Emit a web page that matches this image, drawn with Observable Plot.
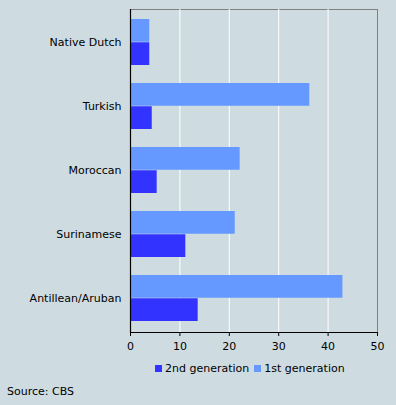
<!DOCTYPE html>
<html>
<head>
<meta charset="utf-8">
<script src="https://cdn.jsdelivr.net/npm/d3@7"></script>
<script src="https://cdn.jsdelivr.net/npm/@observablehq/plot@0.6"></script>
<style>
  html, body { margin: 0; padding: 0; background: #cedce2; }
  #wrap { position: relative; width: 396px; height: 405px; background: #cedce2; font-family: "DejaVu Sans", Verdana, sans-serif; font-size: 11px; color: #000; overflow: hidden; }
  #chart { position: absolute; left: 0; top: 0; }
  #legend { position: absolute; left: 155px; top: 362px; display: flex; align-items: center; white-space: nowrap; }
  .sw { display: inline-block; width: 7px; height: 7px; margin-right: 3px; }
  .item { display: flex; align-items: center; margin-right: 5px; }
  #source { position: absolute; left: 7px; top: 385px; }
</style>
</head>
<body>
<div id="wrap">
  <div id="chart"></div>
  <div id="legend"></div>
  <div id="source">Source: CBS</div>
</div>
<script>
const categories = ["Native Dutch", "Turkish", "Moroccan", "Surinamese", "Antillean/Aruban"];
const firstGen = [3.9, 36.3, 22.2, 21.2, 43.0];
const secondGen = [3.9, 4.4, 5.4, 11.2, 13.7];
const xTicks = [0, 10, 20, 30, 40, 50];
const gridTicks = [10, 20, 30, 40];
const seriesNames = ["2nd generation", "1st generation"];
const seriesColors = ["#3333ff", "#6699ff"];

const d1 = categories.map((c, i) => ({cat: c, v: firstGen[i]}));
const d2 = categories.map((c, i) => ({cat: c, v: secondGen[i]}));

const half = 23.25;

const plot = Plot.plot({
  width: 396,
  height: 355,
  marginLeft: 130,
  marginRight: 19,
  marginTop: 9,
  marginBottom: 23,
  style: {background: "transparent", fontFamily: "DejaVu Sans, Verdana, sans-serif", fontSize: "11px", color: "#000"},
  x: {domain: [0, 50], ticks: xTicks, label: null},
  y: {domain: categories, paddingInner: 0.28, paddingOuter: 0.14, label: null},
  marks: [
    Plot.frame({stroke: "#808080"}),
    Plot.ruleX(gridTicks, {stroke: "white", strokeWidth: 1}),
    Plot.barX(d1, {y: "cat", x: "v", fill: seriesColors[1], insetBottom: half, insetTop: 0}),
    Plot.barX(d2, {y: "cat", x: "v", fill: seriesColors[0], insetTop: half, insetBottom: 0}),
    Plot.ruleX([0], {stroke: "black", strokeWidth: 1.2}),
    Plot.frame({anchor: "bottom", stroke: "black", strokeWidth: 1.2}),
    Plot.axisX({ticks: xTicks, tickSize: 4, tickPadding: 6, label: null}),
    Plot.axisY({tickSize: 0, tickPadding: 9, label: null})
  ]
});
document.getElementById("chart").appendChild(plot);

const legend = document.getElementById("legend");
seriesNames.forEach((name, i) => {
  const item = document.createElement("div");
  item.className = "item";
  const sw = document.createElement("span");
  sw.className = "sw";
  sw.style.background = seriesColors[i];
  item.appendChild(sw);
  item.appendChild(document.createTextNode(name));
  legend.appendChild(item);
});
</script>
</body>
</html>
